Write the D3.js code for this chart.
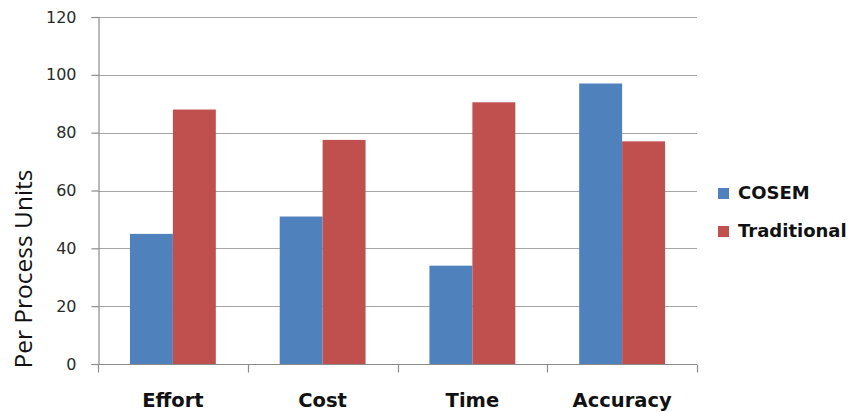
<!DOCTYPE html>
<html>
<head>
<meta charset="utf-8">
<script src="https://cdn.jsdelivr.net/npm/d3@7"></script>
<style>
  html, body { margin: 0; padding: 0; background: #fff; }
  svg { display: block; }
</style>
</head>
<body>
<svg id="chart" width="854" height="412"></svg>
<script>
const categories = ["Effort", "Cost", "Time", "Accuracy"];
const seriesNames = ["COSEM", "Traditional"];
const cosemValues = [45, 51, 34, 97];
const traditionalValues = [88, 77.5, 90.5, 77];
const yTicks = [0, 20, 40, 60, 80, 100, 120];
const colors = ["#4F81BD", "#C0504D"];

const svg = d3.select("#chart");
const margin = { left: 98, right: 157, top: 17, bottom: 48 };
const W = 854, H = 412;
const x0 = margin.left, x1 = W - margin.right;
const y0 = H - margin.bottom, y1 = margin.top;

const x = d3.scaleBand().domain(categories).range([x0, x1]).paddingInner(0).paddingOuter(0);
const y = d3.scaleLinear().domain([0, 120]).range([y0, y1]);

// group layout: two bars take 86/150 of each band, centred
const groupFrac = 86 / 150;
const xs = d3.scaleBand().domain(seriesNames)
  .range([0, x.bandwidth() * groupFrac]).padding(0);
const groupOffset = (x.bandwidth() - x.bandwidth() * groupFrac) / 2;

// horizontal gridlines
svg.append("g")
  .selectAll("line").data(yTicks.filter(t => t > 0)).join("line")
  .attr("x1", x0).attr("x2", x1)
  .attr("y1", d => Math.round(y(d)) + 0.5).attr("y2", d => Math.round(y(d)) + 0.5)
  .attr("stroke", "#a6a6a6").attr("stroke-width", 1.2);

// bars
const rows = categories.map((c, i) => ({ cat: c, vals: [cosemValues[i], traditionalValues[i]] }));
const groups = svg.append("g").selectAll("g").data(rows).join("g")
  .attr("transform", d => `translate(${x(d.cat) + groupOffset},0)`);
groups.selectAll("rect").data(d => d.vals.map((v, j) => ({ v, s: seriesNames[j], j })))
  .join("rect")
  .attr("x", d => xs(d.s))
  .attr("width", xs.bandwidth())
  .attr("y", d => y(d.v))
  .attr("height", d => y(0) - y(d.v))
  .attr("fill", d => colors[d.j]);

// y axis
const yAxis = d3.axisLeft(y).tickValues(yTicks).tickSize(7).tickPadding(15);
const gy = svg.append("g").attr("transform", `translate(${x0 + 0.5},0)`).call(yAxis);
gy.select(".domain").attr("stroke", "#8c8c8c").attr("stroke-width", 1.2);
gy.selectAll(".tick line").attr("stroke", "#8c8c8c").attr("stroke-width", 1.2);
gy.selectAll(".tick text")
  .attr("font-family", "'DejaVu Sans', Verdana, sans-serif")
  .attr("font-size", 16).attr("fill", "#2a2a2a");

// x axis baseline with tick marks at band boundaries
const gx = svg.append("g").attr("transform", `translate(0,${y0 + 0.5})`);
gx.append("line").attr("x1", x0).attr("x2", x1).attr("stroke", "#8c8c8c").attr("stroke-width", 1.2);
const bounds = categories.map(c => x(c)).concat([x1]);
gx.selectAll("line.tk").data(bounds).join("line").attr("class", "tk")
  .attr("x1", d => Math.round(d) + 0.5).attr("x2", d => Math.round(d) + 0.5)
  .attr("y1", 0).attr("y2", 8).attr("stroke", "#8c8c8c").attr("stroke-width", 1.2);
gx.selectAll("text").data(categories).join("text")
  .attr("x", d => x(d) + x.bandwidth() / 2)
  .attr("y", 42.5)
  .attr("text-anchor", "middle")
  .attr("font-family", "'DejaVu Sans', Verdana, sans-serif")
  .attr("font-weight", "bold").attr("font-size", 19.5).attr("fill", "#111")
  .text(d => d);

// y axis title
svg.append("text")
  .attr("transform", `translate(32,269) rotate(-90)`)
  .attr("text-anchor", "middle")
  .attr("font-family", "'Open Sans', Lato, sans-serif")
  .attr("font-size", 24.5).attr("fill", "#111")
  .text("Per Process Units");

// legend
const legend = svg.append("g").attr("transform", "translate(718,0)");
const ly = [199, 237];
seriesNames.forEach((s, i) => {
  legend.append("rect").attr("x", 0).attr("y", ly[i] - 11).attr("width", 11).attr("height", 11).attr("fill", colors[i]);
  legend.append("text").attr("x", 20).attr("y", ly[i])
    .attr("font-family", "'DejaVu Sans', Verdana, sans-serif")
    .attr("font-weight", "bold").attr("font-size", 18).attr("fill", "#111")
    .text(s);
});
</script>
</body>
</html>
